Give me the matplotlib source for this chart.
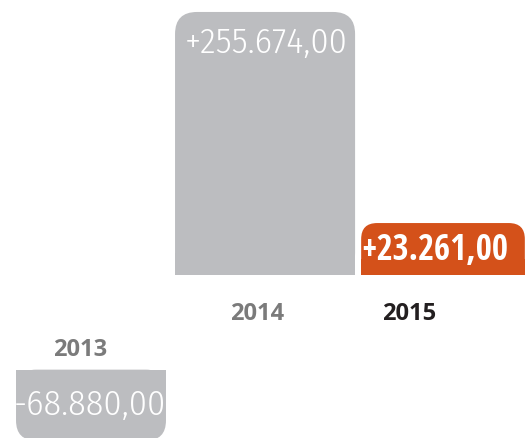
import matplotlib; matplotlib.use("Agg")
import matplotlib.pyplot as plt
from matplotlib.patches import FancyBboxPatch, Rectangle

years = ["2013", "2014", "2015"]
values = [-68.880, 255.674, 23.261]          # thousands
labels = ["-68.880,00", "+255.674,00", "+23.261,00"]
GRAY, ORANGE = "#bcbdc0", "#d4511a"
colors = [GRAY, GRAY, ORANGE]

PX_X = 1 / 176.0      # x data units per pixel
PX_Y = 0.972          # y data units (k) per pixel

fig = plt.figure(figsize=(5.25, 4.38), dpi=100)
ax = fig.add_axes([0, 0, 1, 1])
ax.set_xlim(-91 * PX_X, 434 * PX_X)
ax.set_ylim(-163 * PX_Y, 275 * PX_Y)
ax.axis("off")

def rbar(x, w, y0, y1, r_px, color, top=True):
    r = r_px * PX_X
    ax.add_patch(FancyBboxPatch((x - w / 2, y0), w, y1 - y0, boxstyle=f"round,pad=0,rounding_size={r}",
                                mutation_aspect=PX_Y / PX_X, fc=color, ec="none"))
    rh = r_px * PX_Y
    ax.add_patch(Rectangle((x - w / 2, y0 if top else y1 - rh), w, rh, fc=color, ec="none"))

LIGHT = dict(color="white", fontsize=26, family="Fira Sans Condensed", weight=300, va="baseline")

# 2014
rbar(0.989, 1.023, 0, values[1], 22, colors[1])
ax.text(0.995, 215.8, labels[1], ha="center", **LIGHT)
# 2015 (drawn with a minimum display height)
h15 = max(values[2], 50.5)
rbar(2.0, 0.93, 0, h15, 16, colors[2])
ax.text(1.955, 14.6, labels[2], color="white", fontsize=25, family="Open Sans Condensed", weight=700,
        ha="center", va="baseline")
# 2013 (hangs below, offset)
off13 = -92.0
rbar(0, 0.852, off13 + values[0], off13, 20, colors[0], top=False)
ax.text(-0.006, -136, labels[0], ha="center", **LIGHT)

YR = dict(fontsize=17, weight="bold", family="Open Sans", ha="center", va="baseline")
ax.text(0.946, -43.7, years[1], color="#7b7b7b", **YR)
ax.text(1.81, -43.7, years[2], color="#231f20", **YR)
ax.text(-0.06, -78.7, years[0], color="#7b7b7b", **YR)

fig.savefig("out.png", dpi=100, facecolor="white")
